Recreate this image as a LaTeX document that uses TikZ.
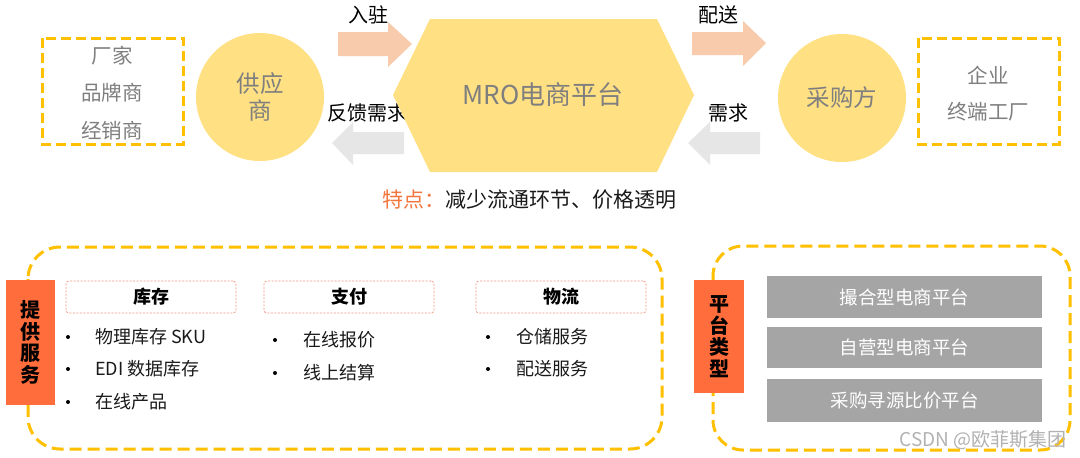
\documentclass[tikz,border=0pt]{standalone}
\usepackage{fontspec}
\setmainfont{Noto Sans CJK SC}
\definecolor{cyel}{HTML}{FFE083}
\definecolor{cdash}{HTML}{FFC000}
\definecolor{corg}{HTML}{FF6D3D}
\definecolor{cpeach}{HTML}{F8CBAD}
\definecolor{carrgray}{HTML}{E7E6E6}
\definecolor{ctxtgray}{HTML}{7F7F7F}
\definecolor{cbox}{HTML}{A5A5A5}
\definecolor{chdr}{HTML}{F4977E}
\definecolor{ckey}{HTML}{F4763F}
\definecolor{ctxt}{HTML}{1A1A1A}
\newcommand\myfs[2]{\fontsize{#1}{#2}\selectfont}
\begin{document}
\begin{tikzpicture}[x=1pt,y=-1pt,
  ydash/.style={draw=cdash, line width=3pt, dash pattern=on 10pt off 5pt},
  graytxt/.style={text=ctxtgray, font=\myfs{20.5}{24}, inner sep=0pt},
  bigcirc/.style={circle, fill=cyel, minimum size=128pt, inner sep=0pt, text=ctxtgray, font=\myfs{23.5}{27}, align=center},
  peacharrow/.style={fill=cpeach},
  grayarrow/.style={fill=carrgray},
  albl/.style={text=black, font=\myfs{20}{24}, inner sep=0pt},
  tag/.style={fill=corg, inner sep=0pt, font=\bfseries\myfs{20}{21.5}, align=center, text=black},
  hdr/.style={draw=chdr, line width=0.8pt, dash pattern=on 2pt off 1.5pt, rounded corners=3pt, minimum width=170pt, minimum height=32pt, inner sep=0pt, font=\bfseries\myfs{18}{20}, text=black},
  item/.style={anchor=west, inner sep=0pt, font=\myfs{18}{20}, text=ctxt},
  gbox/.style={fill=cbox, minimum width=275pt, inner sep=0pt, text=white, font=\myfs{18.5}{20}}
]
\useasboundingbox (0,0) rectangle (1080,458);
\fill[white] (0,0) rectangle (1080,458);

% ---------- top row ----------
\draw[ydash] (42,38) rectangle (183,144);
\node[graytxt] (m1) at (112,56) {厂家};
\node[graytxt] (m2) at (112,93) {品牌商};
\node[graytxt] (m3) at (112,131) {经销商};

\node[bigcirc] (sup) at (260,97) {供应\\商};

\fill[peacharrow] (338,32) -- (388,32) -- (388,22) -- (412,44) -- (388,67) -- (388,56) -- (338,56) -- cycle;
\node[albl] (l1) at (368,15) {入驻};

\fill[grayarrow] (404,132) -- (353,132) -- (353,122) -- (332,143) -- (353,165) -- (353,154) -- (404,154) -- cycle;
\node[albl] (l2) at (367,113) {反馈需求};

\fill[cyel] (393,95) -- (430,19) -- (657,19) -- (694,95) -- (657,172) -- (430,172) -- cycle;
\node[text=ctxtgray, font=\myfs{26}{30}, inner sep=0pt] (mro) at (543,95) {MRO电商平台};

\fill[peacharrow] (692,32) -- (743,32) -- (743,21) -- (766,43) -- (743,66) -- (743,55) -- (692,55) -- cycle;
\node[albl] (l3) at (718,15) {配送};

\fill[grayarrow] (760,132) -- (710,132) -- (710,122) -- (688,143) -- (710,165) -- (710,154) -- (760,154) -- cycle;
\node[albl] (l4) at (728,113) {需求};

\node[bigcirc] (buy) at (842,98) {采购方};

\draw[ydash] (918,38) rectangle (1059,144);
\node[graytxt] (c1) at (988,75) {企业};
\node[graytxt] (c2) at (988,112) {终端工厂};

\node[anchor=west, inner sep=0pt, font=\myfs{21}{24}, text=ctxt] (feat) at (382,200) {\textcolor{ckey}{特点：}减少流通环节、价格透明};

% ---------- bottom left ----------
\draw[ydash, dash pattern=on 12pt off 6pt, rounded corners=32pt] (28,247) rectangle (662,449);
\node[tag, minimum width=49pt, minimum height=125pt] (svc) at (30.5,342.5) {提\\供\\服\\务};

\node[hdr] (h1) at (151,297) {库存};
\node[hdr] (h2) at (349,297) {支付};
\node[hdr] (h3) at (561,297) {物流};

\foreach \y in {337,369,402} \fill[black] (68,\y) circle (2pt);
\node[item] (i1) at (95,337) {物理库存 SKU};
\node[item] (i2) at (95,369) {EDI 数据库存};
\node[item] (i3) at (95,402) {在线产品};

\foreach \y in {340,373} \fill[black] (275,\y) circle (2pt);
\node[item] (i4) at (303,340) {在线报价};
\node[item] (i5) at (303,373) {线上结算};

\foreach \y in {337,369} \fill[black] (488,\y) circle (2pt);
\node[item] (i6) at (516,337) {仓储服务};
\node[item] (i7) at (516,369) {配送服务};

% ---------- bottom right ----------
\draw[ydash, dash pattern=on 12pt off 6pt, rounded corners=30pt] (713,246) rectangle (1070,450);
\node[tag, minimum width=50pt, minimum height=113pt] (typ) at (719,336.5) {平\\台\\类\\型};

\node[gbox, minimum height=42pt] (p1) at (904.5,297) {撮合型电商平台};
\node[gbox, minimum height=41pt] (p2) at (904.5,347.5) {自营型电商平台};
\node[gbox, minimum height=43pt] (p3) at (904.5,400.5) {采购寻源比价平台};

\node[anchor=east, inner sep=0pt, text=black!30, font=\myfs{19}{22}] (wm) at (1067,440) {CSDN @欧菲斯集团};
\end{tikzpicture}
\end{document}
